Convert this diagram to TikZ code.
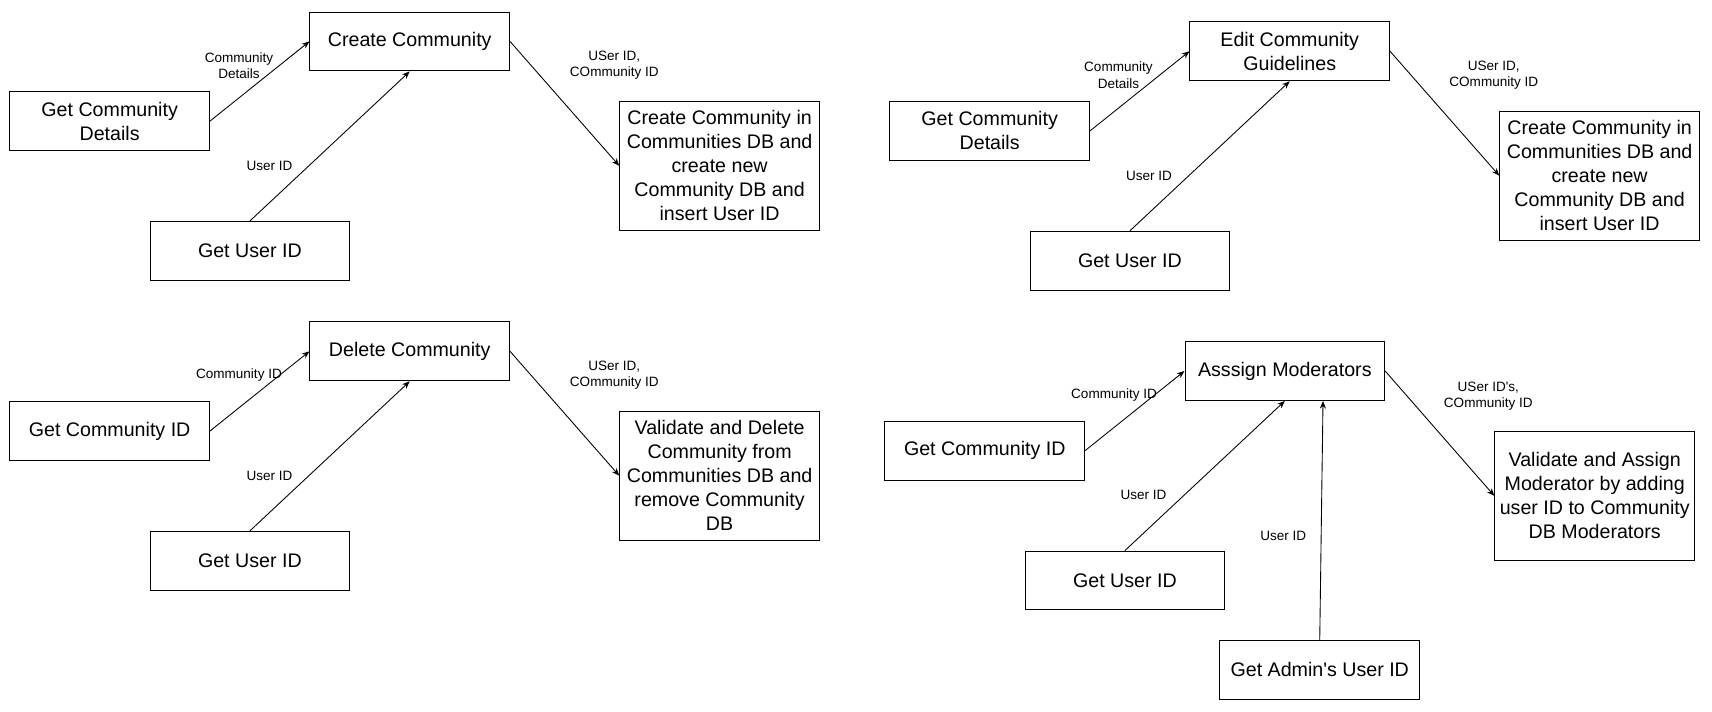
\documentclass[tikz,border=0pt]{standalone}
\usepackage{fontspec}
\setmainfont{Liberation Sans}[Ligatures=TeXOff]
\usetikzlibrary{arrows.meta}

\begin{document}
\begin{tikzpicture}[x=1pt, y=-1pt,
  box/.style={shape=rectangle, draw=black, line width=0.9pt, minimum width=183pt, minimum height=54pt, inner sep=2pt, align=center, font=\fontsize{18}{22}\selectfont},
  bigbox/.style={box, minimum height=118pt},
  lbl/.style={align=center, inner sep=0pt, font=\fontsize{12.4}{15}\selectfont},
  flow/.style={-{Stealth[length=7pt, width=5.5pt]}, line width=0.8pt, draw=black}]
\useasboundingbox (0,0) rectangle (1569,652);
% create community
\node[box] (create) at (375.5, 38) {Create Community};
\node[box] (cdetails) at (100.5, 111) {Get Community\\Details};
\node[box] (cuser) at (229, 230) {Get User ID};
\node[bigbox] (cdb) at (659.5, 152) {Create Community in\\Communities DB and\\create new\\Community DB and\\insert User ID};
\node[lbl] (cdetailslbl) at (219, 60) {Community\\Details};
\node[lbl] (cuserlbl) at (247, 152) {User ID};
\node[lbl] (cdblbl) at (563, 60) {USer ID,\\COmmunity ID};
\path (cdetails.east) edge [flow] (create.west);
\path (cuser.north) edge [flow] (create.south);
\path (create.east) edge [flow] (cdb.west);
% delete community
\node[box] (delete) at (375.5, 322) {Delete Community};
\node[box] (dcommid) at (100.5, 395) {Get Community ID};
\node[box] (duser) at (229, 514) {Get User ID};
\node[bigbox] (ddb) at (659.5, 436) {Validate and Delete\\Community from\\Communities DB and\\remove Community\\DB};
\node[lbl] (dcommidlbl) at (219, 344) {Community ID};
\node[lbl] (duserlbl) at (247, 436) {User ID};
\node[lbl] (ddblbl) at (563, 344) {USer ID,\\COmmunity ID};
\path (dcommid.east) edge [flow] (delete.west);
\path (duser.north) edge [flow] (delete.south);
\path (delete.east) edge [flow] (ddb.west);
% edit guidelines
\node[box] (edit) at (1182, 47) {Edit Community\\Guidelines};
\node[box] (edetails) at (907, 120) {Get Community\\Details};
\node[box] (euser) at (1035.5, 239) {Get User ID};
\node[bigbox] (edb) at (1466, 161) {Create Community in\\Communities DB and\\create new\\Community DB and\\insert User ID};
\node[lbl] (edetailslbl) at (1025, 69) {Community\\Details};
\node[lbl] (euserlbl) at (1053, 161) {User ID};
\node[lbl] (edblbl) at (1369, 69) {USer ID,\\COmmunity ID};
\path (edetails.east) edge [flow] (edit.west);
\path (euser.north) edge [flow] (edit.south);
\path (edit.east) edge [flow] (edb.west);
% assign moderators
\node[box] (assign) at (1177.5, 340) {Asssign Moderators};
\node[box] (acommid) at (902.5, 413) {Get Community ID};
\node[box] (auser) at (1031, 532) {Get User ID};
\node[box] (aadmin) at (1209.5, 614) {Get Admin's User ID};
\node[bigbox, minimum height=119pt] (adb) at (1461.5, 454.5) {Validate and Assign\\Moderator by adding\\user ID to Community\\DB Moderators};
\node[lbl] (acommidlbl) at (1021, 362) {Community ID};
\node[lbl] (auserlbl) at (1048, 454) {User ID};
\node[lbl] (aadminlbl) at (1176, 491) {User ID};
\node[lbl] (adblbl) at (1364, 363) {USer ID's,\\COmmunity ID};
\path (acommid.east) edge [flow] (assign.west);
\path (auser.north) edge [flow] (assign.south);
\path (aadmin.north) edge [flow] ([xshift=35pt]assign.south);
\path (assign.east) edge [flow] (adb.west);
\end{tikzpicture}
\end{document}
